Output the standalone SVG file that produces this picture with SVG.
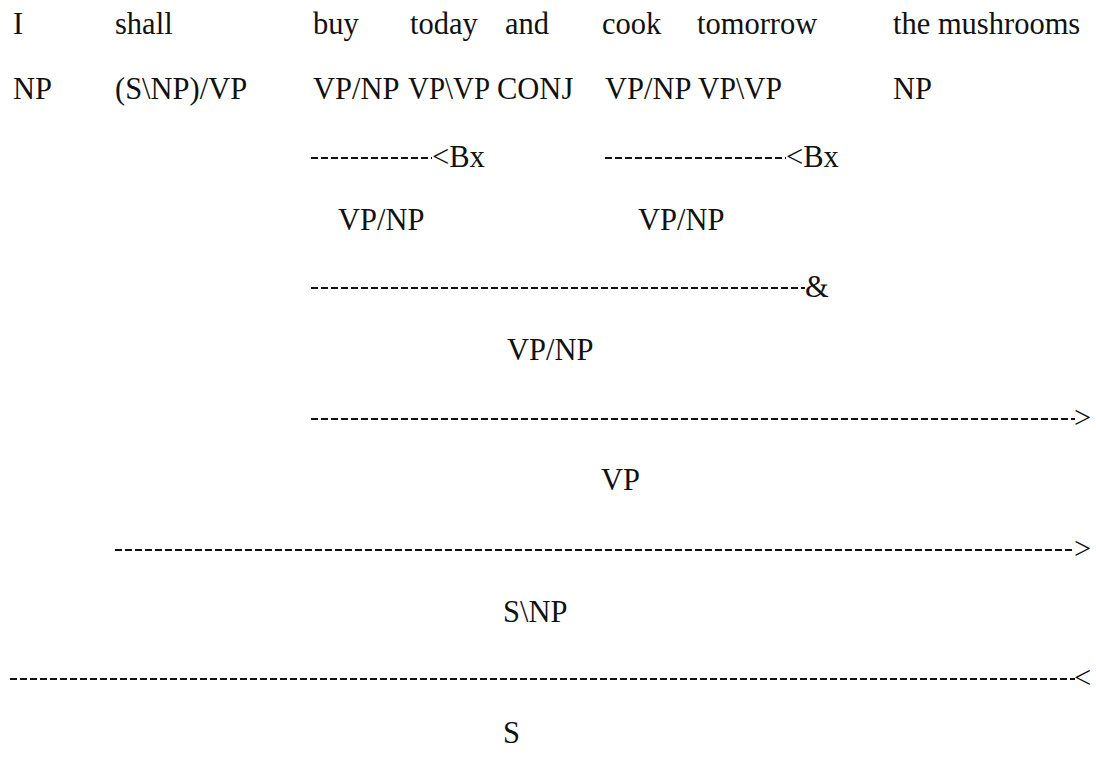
<svg xmlns="http://www.w3.org/2000/svg" width="1096" height="759" viewBox="0 0 1096 759">
<style>
text{font-family:"Liberation Serif","Times New Roman",serif;font-size:30.5px;fill:#111}
.d{stroke:#111;stroke-width:2;stroke-dasharray:7 3;fill:none}
</style>
<rect width="1096" height="759" fill="#fff"/>
<g id="words">
<text x="13" y="34">I</text>
<text x="115" y="34">shall</text>
<text x="313" y="34">buy</text>
<text x="410" y="34">today</text>
<text x="505" y="34">and</text>
<text x="602" y="34">cook</text>
<text x="697" y="34">tomorrow</text>
<text x="893" y="34">the mushrooms</text>
</g>
<g id="categories">
<text x="13" y="99">NP</text>
<text x="115" y="99">(S\NP)/VP</text>
<text x="313" y="99">VP/NP</text>
<text x="408" y="99" textLength="82" lengthAdjust="spacingAndGlyphs">VP\VP</text>
<text x="497" y="99">CONJ</text>
<text x="605" y="99">VP/NP</text>
<text x="698" y="99" textLength="84" lengthAdjust="spacingAndGlyphs">VP\VP</text>
<text x="893" y="99">NP</text>
</g>
<g id="results">
<text x="338" y="230">VP/NP</text>
<text x="638" y="230">VP/NP</text>
<text x="507" y="360">VP/NP</text>
<text x="601" y="490">VP</text>
<text x="503" y="622">S\NP</text>
<text x="503" y="743">S</text>
</g>
<g id="connectors">
<line class="d" x1="311" y1="158" x2="432" y2="158"/><text x="432" y="167">&lt;Bx</text>
<line class="d" x1="605" y1="158" x2="786" y2="158"/><text x="786" y="167">&lt;Bx</text>
<line class="d" x1="311" y1="288" x2="805" y2="288"/><text x="805" y="297">&amp;</text>
<line class="d" x1="311" y1="419" x2="1075" y2="419"/><text x="1074" y="428">&gt;</text>
<line class="d" x1="115" y1="550" x2="1075" y2="550"/><text x="1074" y="559">&gt;</text>
<line class="d" x1="10" y1="679" x2="1075" y2="679"/><text x="1074" y="688">&lt;</text>
</g>
</svg>
